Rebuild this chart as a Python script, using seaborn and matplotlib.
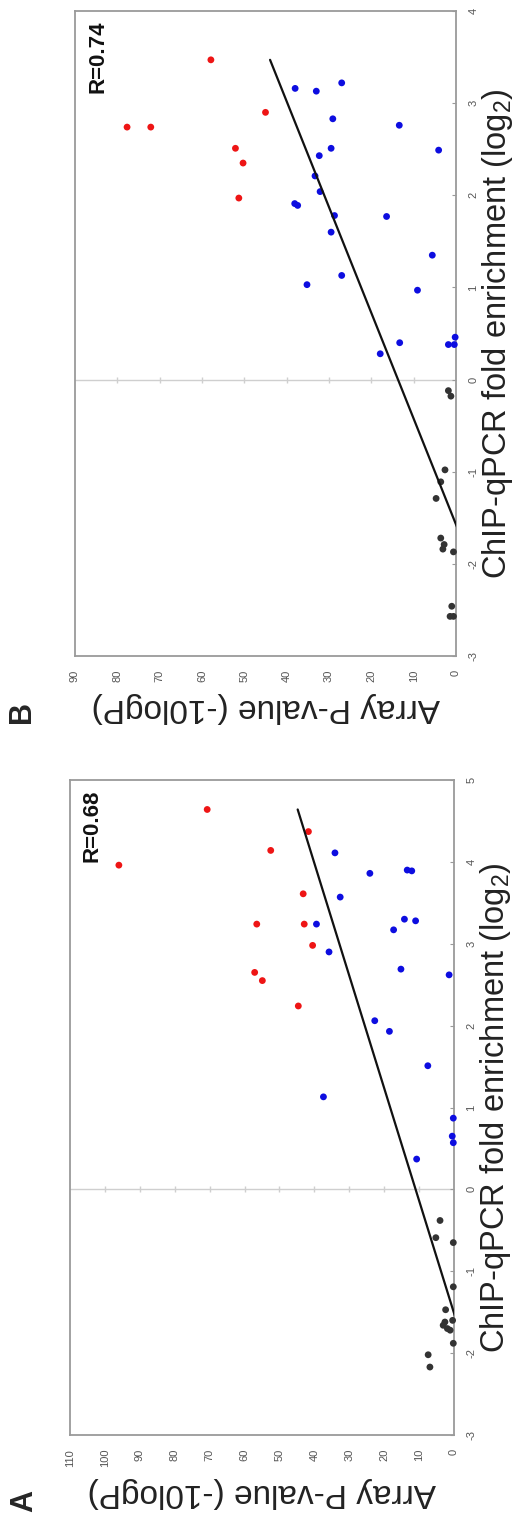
import numpy as np
import pandas as pd
import matplotlib
matplotlib.use('Agg')
import matplotlib.pyplot as plt
import seaborn as sns

sns.set_style('white')
plt.rcParams['font.family'] = ['Liberation Sans', 'DejaVu Sans']
plt.rcParams['mathtext.fontset'] = 'custom'
plt.rcParams['mathtext.rm'] = 'Liberation Sans'
plt.rcParams['mathtext.it'] = 'Liberation Sans:italic'
plt.rcParams['axes.unicode_minus'] = False

# ---------------- Panel A data ----------------
a_red_fold = [4.64, 4.37, 4.14, 3.96, 3.61, 3.24, 3.24, 2.98, 2.65, 2.55, 2.24]
a_red_p = [70.7, 41.7, 52.5, 96.0, 43.2, 56.5, 42.9, 40.5, 57.1, 54.9, 44.6]
a_blue_fold = [4.11, 3.86, 3.90, 3.89, 3.57, 3.24, 3.30, 3.28, 3.17, 2.90,
               2.69, 2.62, 2.06, 1.93, 1.51, 1.13, 0.87, 0.65, 0.57, 0.37]
a_blue_p = [34.1, 24.1, 13.4, 12.1, 32.6, 39.4, 14.2, 11.0, 17.3, 35.8,
            15.2, 1.4, 22.7, 18.5, 7.5, 37.4, 0.2, 0.5, 0.2, 10.7]
a_black_fold = [-0.38, -0.59, -0.65, -1.19, -1.47, -1.60, -1.62, -1.66, -1.70,
                -1.72, -1.88, -2.02, -2.17]
a_black_p = [4.0, 5.2, 0.2, 0.2, 2.4, 0.4, 2.6, 3.1, 1.9, 1.1, 0.2, 7.4, 6.9]
a_fit = (11.0, 7.28)      # intercept, slope  (P = a + b * fold)
a_r_text = "R=0.68"
a_pticks = list(range(0, 111, 10))
a_fticks = list(range(-3, 6))

# ---------------- Panel B data ----------------
b_red_fold = [3.47, 2.90, 2.74, 2.74, 2.51, 2.35, 1.97]
b_red_p = [57.9, 45.0, 77.7, 72.1, 52.1, 50.3, 51.3]
b_blue_fold = [3.16, 3.13, 3.22, 2.83, 2.76, 2.51, 2.43, 2.49, 2.21, 2.04,
               1.91, 1.89, 1.78, 1.77, 1.60, 1.35, 1.13, 1.03, 0.97, 0.40,
               0.28, 0.46, 0.38, 0.38]
b_blue_p = [38.0, 33.0, 27.0, 29.1, 13.4, 29.5, 32.3, 4.1, 33.3, 32.1,
            38.1, 37.4, 28.7, 16.4, 29.5, 5.6, 27.0, 35.2, 9.1, 13.3,
            17.9, 0.2, 1.8, 0.4]
b_black_fold = [-0.12, -0.18, -0.98, -1.11, -1.29, -1.72, -1.79, -1.84, -1.87,
                -2.46, -2.57, -2.57]
b_black_p = [1.8, 1.2, 2.6, 3.6, 4.7, 3.6, 2.8, 3.1, 0.6, 1.0, 1.4, 0.6]
b_fit = (13.7, 8.71)
b_r_text = "R=0.74"
b_pticks = list(range(0, 91, 10))
b_fticks = list(range(-3, 5))

palette = {'red': '#ee1515', 'blue': '#0d0de0', 'black': '#333333'}
frame_col = '#9a9a9a'
tick_col = '#555555'


def make_df(rf, rp, bf, bp, kf, kp):
    return pd.DataFrame({
        'fold': rf + bf + kf,
        'pval': rp + bp + kp,
        'group': ['red'] * len(rf) + ['blue'] * len(bf) + ['black'] * len(kf),
    })


def draw_panel(ax, df, fit, r_text, pticks, fticks, r_pos):
    ax.axhline(0, color='#cfcfcf', lw=1.0, zorder=0)
    ax.plot(pticks[1:-1], [0] * len(pticks[1:-1]), ls='none', marker='|',
            ms=4, mew=1.0, color='#cfcfcf', zorder=0)
    sns.scatterplot(data=df, x='pval', y='fold', hue='group', palette=palette,
                    s=24, linewidth=0, legend=False, ax=ax, clip_on=False,
                    zorder=3)
    f = np.array([min(df['fold']), max(df['fold'])])
    ax.plot(fit[0] + fit[1] * f, f, color='#111111', lw=1.6, zorder=4)
    ax.set_xlim(pticks[-1], pticks[0])
    ax.set_ylim(fticks[0], fticks[-1])
    ax.set_xticks(pticks)
    ax.set_xticklabels([str(t) for t in pticks], rotation=90)
    ax.set_yticks(fticks)
    ax.set_yticklabels([str(t) for t in fticks], rotation=90, va='center')
    ax.yaxis.tick_right()
    ax.tick_params(axis='x', length=0, pad=10, labelsize=8, labelcolor=tick_col)
    ax.tick_params(axis='y', direction='in', length=3, width=0.8,
                   color=frame_col, pad=9, labelsize=8, labelcolor=tick_col)
    for sp in ax.spines.values():
        sp.set_color(frame_col)
        sp.set_linewidth(1.3)
        sp.set_visible(True)
    ax.set_xlabel('Array P-value (-10logP)', fontsize=24, rotation=180,
                  labelpad=7, color='#222222')
    ax.yaxis.set_label_position('right')
    ax.set_ylabel('ChIP-qPCR fold enrichment (log$_{2}$)', fontsize=23.5,
                  rotation=90, labelpad=1, color='#222222')
    ax.text(r_pos[0], r_pos[1], r_text, transform=ax.transAxes, rotation=90,
            ha='center', va='top', fontsize=16, fontweight='bold',
            color='#111111')


fig = plt.figure(figsize=(5.2, 15.17), dpi=100)
W, H = 520.0, 1517.0
axA = fig.add_axes([70 / W, (H - 1435) / H, 384 / W, 655 / H])
axB = fig.add_axes([75 / W, (H - 656) / H, 381 / W, 645 / H])

dfA = make_df(a_red_fold, a_red_p, a_blue_fold, a_blue_p, a_black_fold, a_black_p)
dfB = make_df(b_red_fold, b_red_p, b_blue_fold, b_blue_p, b_black_fold, b_black_p)

draw_panel(axA, dfA, a_fit, a_r_text, a_pticks, a_fticks, (0.057, 0.985))
draw_panel(axB, dfB, b_fit, b_r_text, b_pticks, b_fticks, (0.06, 0.986))

fig.text(24 / W, 1 - 1501 / H, 'A', rotation=90, fontsize=22,
         fontweight='bold', ha='center', va='center')
fig.text(22 / W, 1 - 712 / H, 'B', rotation=90, fontsize=22,
         fontweight='bold', ha='center', va='center')

fig.savefig('out.png', dpi=100)
